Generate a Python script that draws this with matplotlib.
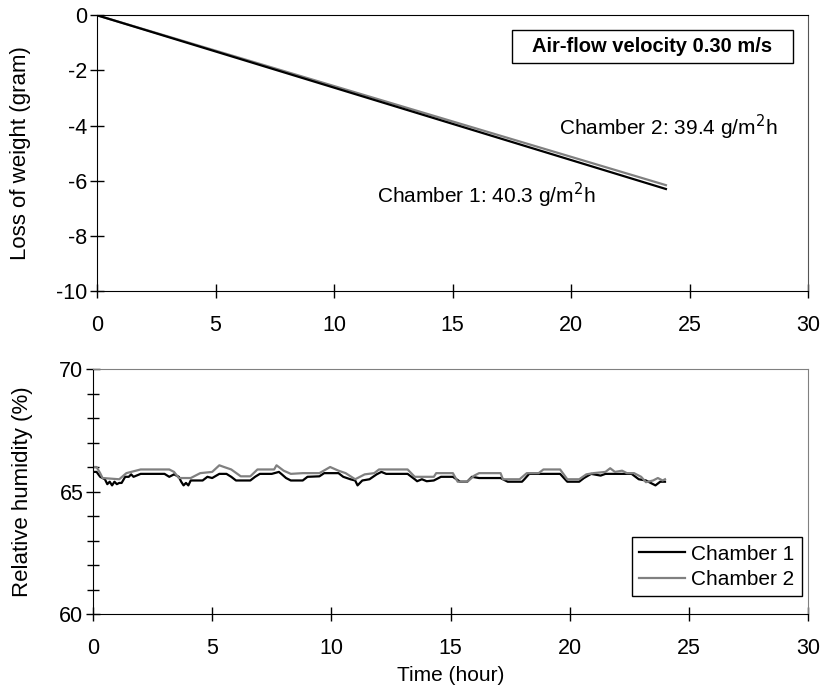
import matplotlib
matplotlib.use("Agg")
import matplotlib.pyplot as plt
from matplotlib.patches import Rectangle

plt.rcParams['font.family'] = ['Liberation Sans', 'DejaVu Sans']
plt.rcParams['axes.unicode_minus'] = False

# weight loss (straight lines, gram)
time_w = [0, 6, 12, 18, 24]
loss_ch1 = [0, -1.575, -3.15, -4.725, -6.3]
loss_ch2 = [0, -1.54, -3.08, -4.62, -6.16]

# relative humidity
t_ch1 = [0, 0.15, 0.3, 0.5, 0.6, 0.7, 0.8, 0.9, 1.0, 1.1, 1.2, 1.35, 1.5, 1.6, 1.7, 2.0,
         3.0, 3.2, 3.4, 3.6, 3.7, 3.8, 3.9, 4.0, 4.1, 4.6, 4.8, 5.0, 5.3, 5.6, 5.8, 6.0,
         6.6, 6.8, 7.0, 7.5, 7.8, 7.9, 8.1, 8.3, 8.8, 9.0, 9.5, 9.7, 10.3, 10.5, 10.8,
         11.0, 11.1, 11.3, 11.6, 11.9, 12.1, 12.3, 13.2, 13.5, 13.6, 13.8, 14.0, 14.3,
         14.6, 15.1, 15.4, 15.7, 15.9, 16.2, 17.1, 17.4, 18.0, 18.1, 18.3, 19.6, 19.9,
         20.4, 20.6, 20.9, 21.3, 21.5, 22.6, 22.9, 23.2, 23.4, 23.6, 23.8, 24.0]
rh_ch1 = [65.8, 65.8, 65.6, 65.5, 65.3, 65.4, 65.25, 65.4, 65.3, 65.35, 65.35, 65.6, 65.6,
          65.7, 65.6, 65.72, 65.72, 65.6, 65.7, 65.6, 65.4, 65.25, 65.35, 65.25, 65.45,
          65.45, 65.6, 65.55, 65.72, 65.72, 65.6, 65.45, 65.45, 65.6, 65.72, 65.72, 65.8,
          65.72, 65.55, 65.45, 65.45, 65.6, 65.62, 65.75, 65.75, 65.6, 65.5, 65.45, 65.25,
          65.45, 65.5, 65.7, 65.8, 65.72, 65.72, 65.5, 65.42, 65.5, 65.42, 65.45, 65.6,
          65.6, 65.4, 65.4, 65.6, 65.55, 65.55, 65.4, 65.4, 65.5, 65.72, 65.72, 65.4,
          65.4, 65.55, 65.72, 65.65, 65.72, 65.72, 65.5, 65.45, 65.35, 65.25, 65.4, 65.4]

t_ch2 = [0, 0.15, 0.3, 0.4, 1.1, 1.4, 1.6, 1.8, 2.0, 3.2, 3.4, 3.6, 4.1, 4.5, 5.0, 5.3,
         5.5, 5.8, 6.2, 6.6, 6.9, 7.6, 7.7, 8.0, 8.3, 8.8, 9.5, 9.95, 10.3, 10.6, 11.0,
         11.4, 11.8, 12.0, 13.2, 13.5, 14.3, 14.4, 15.1, 15.3, 15.7, 16.0, 16.2, 17.1,
         17.2, 17.9, 18.2, 18.7, 18.9, 19.6, 19.9, 20.4, 20.7, 21.0, 21.5, 21.7, 21.9,
         22.2, 22.4, 22.7, 23.0, 23.2, 23.5, 23.7, 23.9, 24.0]
rh_ch2 = [66.0, 66.0, 65.75, 65.55, 65.5, 65.75, 65.8, 65.85, 65.9, 65.9, 65.8, 65.55,
          65.55, 65.75, 65.8, 66.07, 66.0, 65.9, 65.62, 65.62, 65.9, 65.9, 66.07, 65.85,
          65.72, 65.75, 65.75, 66.0, 65.85, 65.75, 65.5, 65.7, 65.75, 65.9, 65.9, 65.6,
          65.6, 65.75, 65.75, 65.4, 65.4, 65.65, 65.75, 65.75, 65.5, 65.5, 65.75, 65.75,
          65.9, 65.9, 65.5, 65.5, 65.7, 65.75, 65.8, 65.95, 65.8, 65.85, 65.75, 65.75,
          65.6, 65.38, 65.45, 65.55, 65.45, 65.5]

fig = plt.figure(figsize=(8.26, 6.93), dpi=100)
ax1 = fig.add_axes([0.1174, 0.580, 0.861, 0.398])
ax2 = fig.add_axes([0.1126, 0.114, 0.8656, 0.3535])

gray = '#808080'

# top panel
ax1.plot(time_w, loss_ch2, color=gray, lw=1.6)
ax1.plot(time_w, loss_ch1, color='black', lw=1.6)
ax1.set_xlim(0, 30)
ax1.set_ylim(-10, 0)
ax1.set_xticks(range(0, 31, 5))
ax1.set_yticks(range(-10, 1, 2))
ax1.set_ylabel('Loss of weight (gram)', fontsize=16)
ax1.yaxis.set_label_coords(-0.093, 0.5)
ax1.text(19.5, -4.35, 'Chamber 2: 39.4 g/m$^2$h', fontsize=15, va='baseline')
ax1.text(11.8, -6.81, 'Chamber 1: 40.3 g/m$^2$h', fontsize=15, va='baseline')
ax1.add_patch(Rectangle((0.5837, 0.826), 0.3952, 0.1197, transform=ax1.transAxes,
                        fc='white', ec='black', lw=1, zorder=3))
ax1.text(0.781, 0.886, 'Air-flow velocity 0.30 m/s', transform=ax1.transAxes,
         fontsize=14.5, fontweight='bold', ha='center', va='center', zorder=4)
ax1.spines['right'].set_color('#555555')

# bottom panel
ax2.plot(t_ch1, rh_ch1, color='black', lw=1.6, label='Chamber 1')
ax2.plot(t_ch2, rh_ch2, color=gray, lw=1.6, label='Chamber 2')
ax2.set_xlim(0, 30)
ax2.set_ylim(60, 70)
ax2.set_xticks(range(0, 31, 5))
ax2.set_yticks([60, 65, 70])
ax2.set_yticks(range(60, 71), minor=True)
ax2.set_ylabel('Relative humidity (%)', fontsize=16)
ax2.yaxis.set_label_coords(-0.084, 0.5)
ax2.set_xlabel('Time (hour)', fontsize=15)
ax2.xaxis.set_label_coords(0.5, -0.212)
ax2.spines['top'].set_color(gray)
ax2.spines['right'].set_color(gray)
leg = ax2.legend(loc='lower right', bbox_to_anchor=(0.9916, 0.073), borderaxespad=0,
                 fontsize=15, fancybox=False, edgecolor='black', framealpha=1,
                 handlelength=2.2, handletextpad=0.3, borderpad=0.35, labelspacing=0.3)
leg.get_frame().set_linewidth(1)

for ax in (ax1, ax2):
    ax.tick_params(direction='inout', length=10, width=1, labelsize=15.5)
    ax.tick_params(which='minor', direction='inout', length=8, width=1)
    ax.tick_params(axis='x', pad=12)
    ax.tick_params(axis='y', pad=2)

fig.savefig('out.png', dpi=100)
